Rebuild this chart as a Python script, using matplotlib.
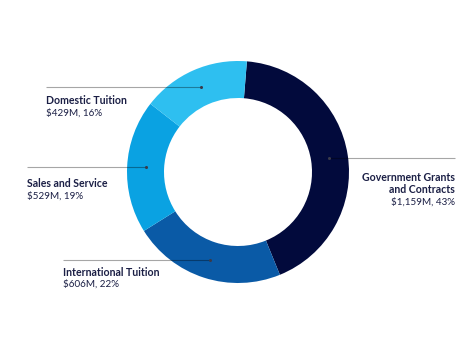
import matplotlib.pyplot as plt
import numpy as np

labels = ["Government Grants\nand Contracts", "International Tuition",
          "Sales and Service", "Domestic Tuition"]
amounts = [1159, 606, 529, 429]  # $M
shares = [43, 22, 19, 16]  # %
amount_text = ["$1,159M", "$606M", "$529M", "$429M"]

colors = ("#020a3c", "#0a5aa6", "#0aa2e2", "#2ebff0")
text_color = "#1b1f45"

W, H = 474, 354
fig = plt.figure(figsize=(W / 100, H / 100), dpi=100)
ax = fig.add_axes([0, 0, 1, 1])

cx, cy = 238, H - 172
r_out, r_in = 111, 74
wedges, _ = ax.pie(
    amounts,
    colors=colors,
    radius=r_out,
    center=(cx, cy),
    startangle=85.4,
    counterclock=False,
    wedgeprops=dict(width=r_out - r_in, linewidth=0),
    frame=True,
)

# label anchors: (line end x, text x, ha, first baseline y in px)
anchors = [
    (455, 455, "right", 180.7),
    (63, 63, "left", 275.7),
    (27, 27, "left", 187.3),
    (46, 46, "left", 104.0),
]
r_mid = (r_out + r_in) / 2
for w, lab, amt, pct, (lx, tx, ha, base) in zip(
    wedges, labels, amount_text, shares, anchors
):
    ang = np.deg2rad((w.theta1 + w.theta2) / 2)
    px = cx + r_mid * np.cos(ang)
    py = cy + r_mid * np.sin(ang)
    ax.plot([px, lx], [py, py], color="black", alpha=0.35, lw=0.8,
            solid_capstyle="butt")
    ax.plot(px, py, "o", ms=2.2, color="#3a3a4a", mec="none")
    lines = lab.split("\n")
    y = H - base
    for ln in lines:
        ax.text(tx, y, ln, ha=ha, va="baseline", fontsize=7.6,
                fontweight="bold", family="Lato", color=text_color)
        y -= 12.6
    ax.text(tx, y + 1.2, f"{amt}, {pct}%", ha=ha, va="baseline",
            fontsize=7.1, family="Lato", color=text_color)

ax.set_xlim(0, W)
ax.set_ylim(0, H)
ax.set_aspect("equal")
ax.axis("off")
fig.savefig("out.png", dpi=100)
